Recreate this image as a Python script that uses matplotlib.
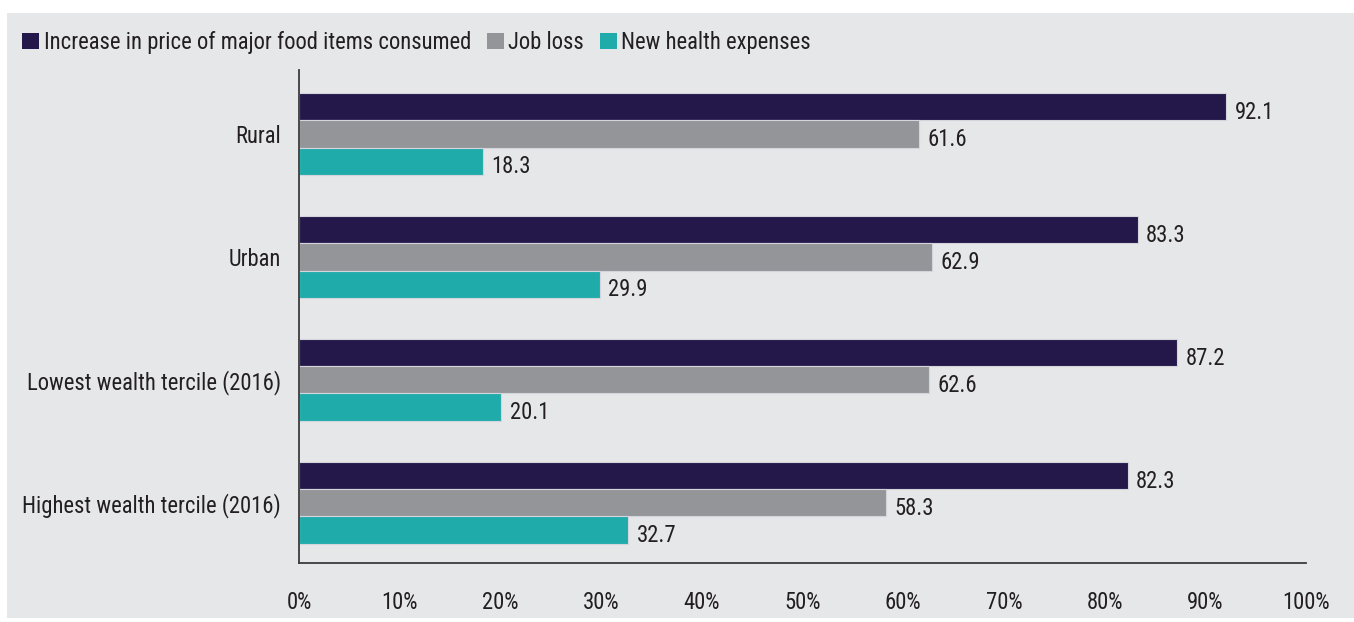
import matplotlib
matplotlib.use("Agg")
import matplotlib.pyplot as plt
from matplotlib import font_manager
from matplotlib.patches import Rectangle, Patch
import numpy as np

categories = ["Rural", "Urban", "Lowest wealth tercile (2016)", "Highest wealth tercile (2016)"]
series_names = ["Increase in price of major food items consumed", "Job loss", "New health expenses"]
food_price = [92.1, 83.3, 87.2, 82.3]
job_loss = [61.6, 62.9, 62.6, 58.3]
health = [18.3, 29.9, 20.1, 32.7]
xticks = [0, 10, 20, 30, 40, 50, 60, 70, 80, 90, 100]
xtick_labels = [f"{t}%" for t in xticks]
colors = ["#24184a", "#939598", "#20abab"]

# pick a condensed font if one is installed
fp = None
cands = []
bad = ["bold", "italic", "oblique", "black", "light", "thin", "medium", "semi", "extra"]
for f in font_manager.fontManager.ttflist:
    low = (f.name + " " + f.fname.split('/')[-1]).lower()
    if ("narrow" in low or "condensed" in low) and not any(b in low for b in bad):
        cands.append(f)
pref = ["liberation", "roboto", "open", "dejavu", "noto", "lato"]
cands.sort(key=lambda f: next((i for i, p in enumerate(pref) if p in (f.name + f.fname).lower()), 99))
if cands:
    fp = font_manager.FontProperties(fname=cands[0].fname)

text_color = "#231f20"
bg = "#e6e7e9"
if fp is not None:
    def fprop(size):
        p = fp.copy(); p.set_size(size); return p
else:
    def fprop(size):
        return font_manager.FontProperties(family="Liberation Sans", size=size*0.85)

fig = plt.figure(figsize=(13.54, 6.22), dpi=100)
fig.patch.set_facecolor("white")
fig.patches.append(Rectangle((7/1354, 1-618/622), 1-7/1354, (618-13)/622,
                             transform=fig.transFigure, facecolor=bg, edgecolor="none", zorder=-10))

ax = fig.add_axes([299/1354, 1-563/622, (1306-299)/1354, (563-70)/622])
ax.set_facecolor(bg)
ax.patch.set_alpha(0)

y = np.arange(len(categories))
h = 0.222
series = [food_price, job_loss, health]
for i, (vals, c) in enumerate(zip(series, colors)):
    pos = y + (i - 1) * h
    ax.barh(pos, vals, height=h, color=c, edgecolor="#d4d4dc", linewidth=0.8)
    for p, v in zip(pos, vals):
        ax.annotate(f"{v:.1f}", (v, p), xytext=(6, -4), textcoords="offset points",
                    ha="left", va="center", fontproperties=fprop(16.3), color=text_color)

ax.set_xlim(0, 100)
ax.set_ylim(3.49, -0.52)
ax.set_xticks(xticks)
ax.set_xticklabels(xtick_labels, fontproperties=fprop(16.3), color=text_color)
ax.set_yticks(y)
ax.set_yticklabels(categories, fontproperties=fprop(16.3), color=text_color)
ax.tick_params(axis="x", length=0, pad=20)
ax.tick_params(axis="y", length=0, pad=13)
for s in ["top", "right"]:
    ax.spines[s].set_visible(False)
for s in ["left", "bottom"]:
    ax.spines[s].set_color("#3c3c3c")
    ax.spines[s].set_linewidth(1.3)

handles = [Patch(facecolor=c, edgecolor="none") for c in colors]
leg = fig.legend(handles, series_names, loc="upper left", bbox_to_anchor=(22/1354, 1-31/622),
                 ncol=3, frameon=False, prop=fprop(16.3), handlelength=0.75, handleheight=0.75,
                 handletextpad=0.2, columnspacing=0.7, borderaxespad=0, borderpad=0)
for t in leg.get_texts():
    t.set_color(text_color)

fig.savefig("out.png", dpi=100, facecolor=fig.get_facecolor())
